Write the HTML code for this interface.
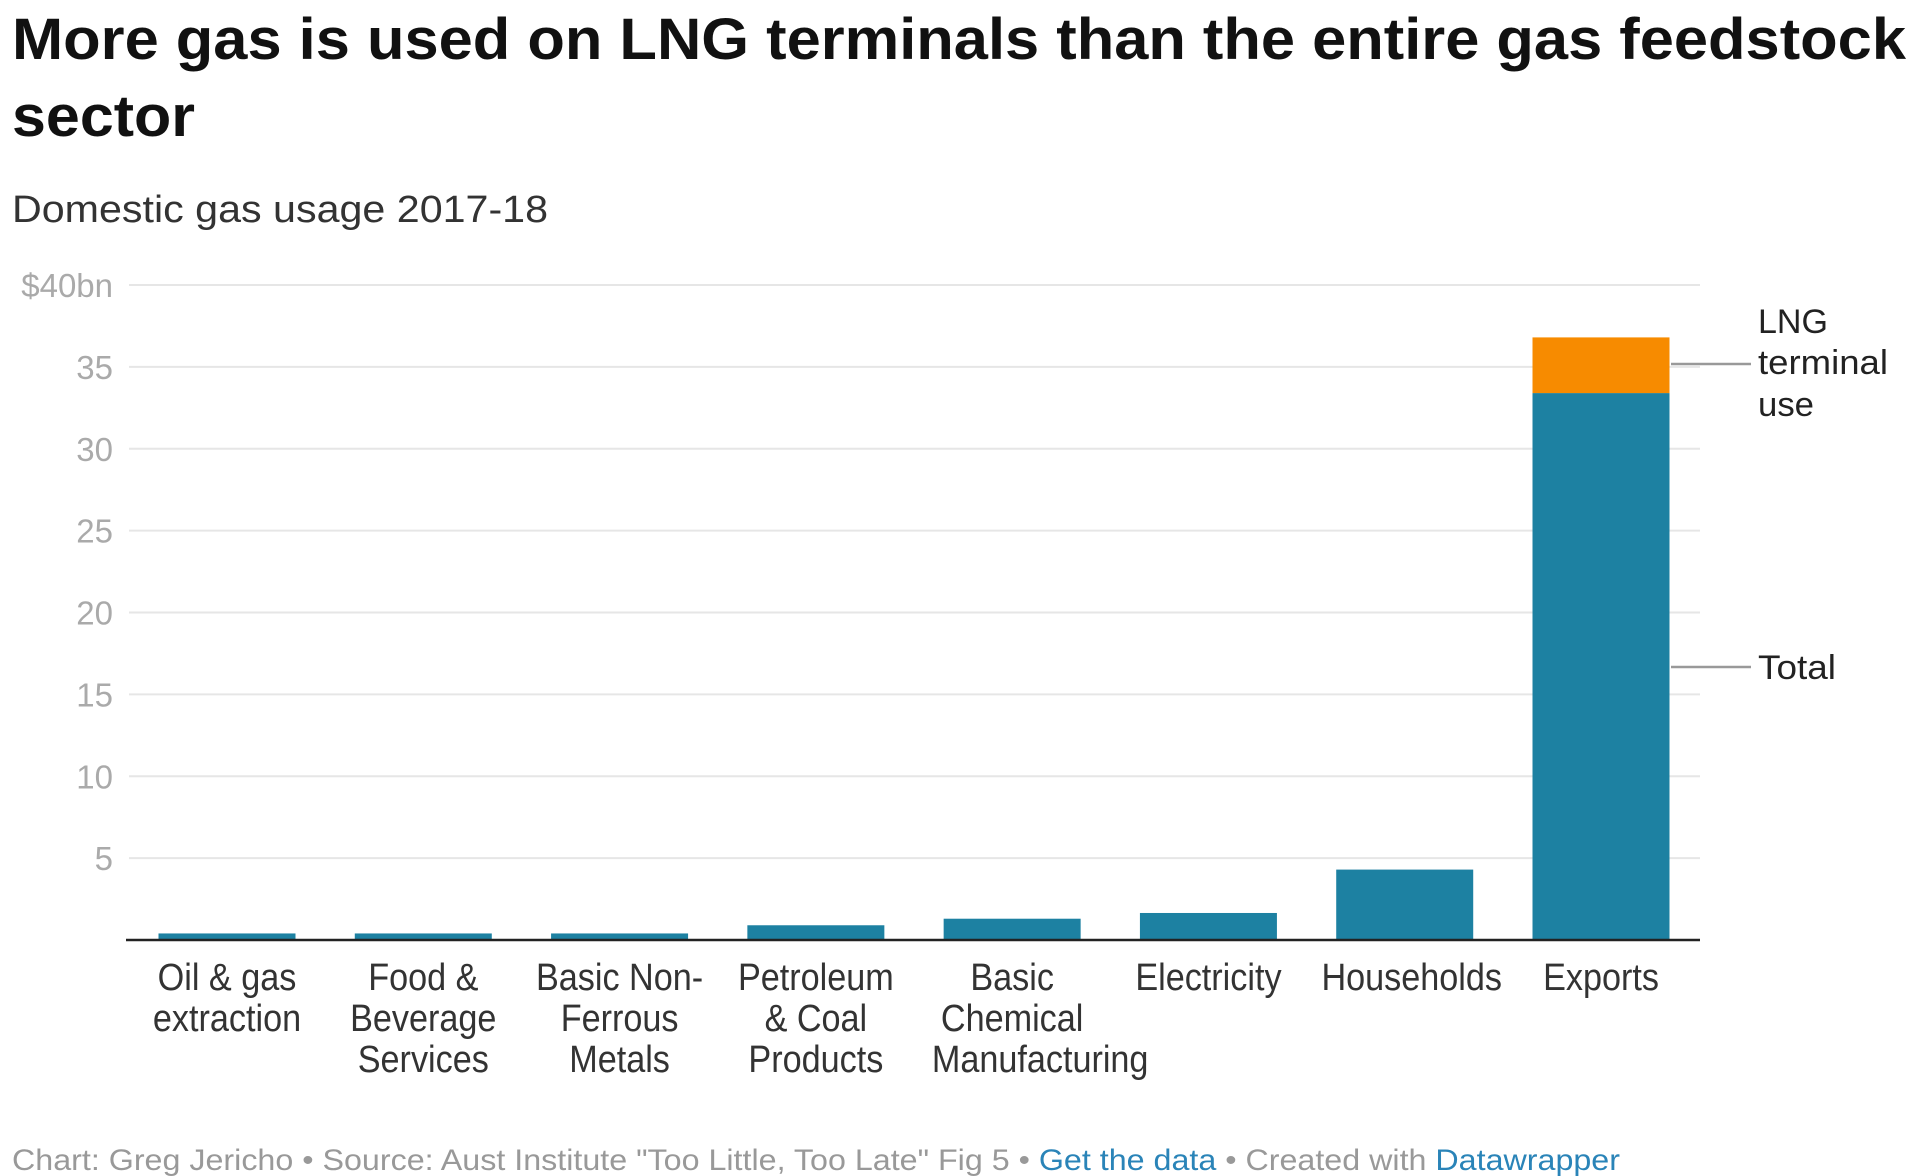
<!DOCTYPE html>
<html><head><meta charset="utf-8"><style>
html,body{margin:0;padding:0;background:#fff;}
svg{display:block;font-family:"Liberation Sans",Arial,sans-serif;}
</style></head><body>
<svg id="chart" width="1918" height="1176" viewBox="0 0 1918 1176">
<text x="12" y="59" font-size="58" font-weight="bold" fill="#111" textLength="1894" lengthAdjust="spacingAndGlyphs">More gas is used on LNG terminals than the entire gas feedstock</text>
<text x="12" y="136" font-size="58" font-weight="bold" fill="#111" textLength="183" lengthAdjust="spacingAndGlyphs">sector</text>
<text x="12" y="222" font-size="38" fill="#333" textLength="536" lengthAdjust="spacingAndGlyphs">Domestic gas usage 2017-18</text>
<g id="grid"></g><g id="bars"></g><g id="xlabels"></g>
<line x1="1671" y1="364" x2="1751" y2="364" stroke="#999" stroke-width="2.5"/>
<line x1="1671" y1="667" x2="1751" y2="667" stroke="#999" stroke-width="2.5"/>
<g font-size="34" fill="#222">
<text x="1758" y="333" textLength="70" lengthAdjust="spacingAndGlyphs">LNG</text>
<text x="1758" y="374" textLength="130" lengthAdjust="spacingAndGlyphs">terminal</text>
<text x="1758" y="416" textLength="56" lengthAdjust="spacingAndGlyphs">use</text>
</g>
<text x="1758" y="679" font-size="34" fill="#222" textLength="78" lengthAdjust="spacingAndGlyphs">Total</text>
<text x="12" y="1170" font-size="30" fill="#999" textLength="1608" lengthAdjust="spacingAndGlyphs">Chart: Greg Jericho • Source: Aust Institute "Too Little, Too Late" Fig 5 • <tspan fill="#2a84b8">Get the data</tspan> • Created with <tspan fill="#2a84b8">Datawrapper</tspan></text>
</svg>
<script>
const categories = [["Oil & gas","extraction"],["Food &","Beverage","Services"],["Basic Non-","Ferrous","Metals"],["Petroleum","& Coal","Products"],["Basic","Chemical","Manufacturing"],["Electricity"],["Households"],["Exports"]];
const totalValues = [0.4, 0.4, 0.4, 0.9, 1.3, 1.65, 4.3, 33.4];
const lngValues = [0, 0, 0, 0, 0, 0, 0, 3.4];
const yTicks = [5, 10, 15, 20, 25, 30, 35, 40];
const yTickLabels = ["5","10","15","20","25","30","35","$40bn"];

const NS = "http://www.w3.org/2000/svg";
const y0 = 940, pxPerUnit = 16.375, left = 129, right = 1700;
const yScale = v => y0 - v * pxPerUnit;
const step = (1601 - 227) / 7;
const xScale = i => 227 + i * step;
const barW = 137;
function mk(tag, attrs, parent){const e=document.createElementNS(NS,tag);for(const k in attrs)e.setAttribute(k,attrs[k]);parent.appendChild(e);return e;}
const grid = document.getElementById('grid');
yTicks.forEach((t,i)=>{
  const l = mk('line',{x1:left,x2:right,y1:yScale(t),y2:yScale(t),stroke:'#e6e6e6','stroke-width':2},grid);
  
  
  const tx = mk('text',{x:113,y:yScale(t)+12,'text-anchor':'end','font-size':33,fill:'#aaa'},grid);
  tx.textContent = yTickLabels[i];
  
  
});
const bars = document.getElementById('bars');
totalValues.forEach((v,i)=>{
  const x = xScale(i) - barW/2;
  const r = mk('rect',{x:x,y:yScale(v),width:barW,height:y0-yScale(v),fill:'#1d81a2'},bars);
  
  
  if(lngValues[i]>0){
    const o = mk('rect',{x:x,y:yScale(v+lngValues[i]),width:barW,height:lngValues[i]*pxPerUnit,fill:'#f78b00'},bars);
    
    
  }
});
const ax = mk('line',{x1:126,x2:right,y1:y0,y2:y0,stroke:'#222','stroke-width':2.5},bars);


const xl = document.getElementById('xlabels');
categories.forEach((lines,i)=>{
  lines.forEach((s,j)=>{
    let cx = xScale(i);
    if(s==="Manufacturing") cx += 28;
    if(s==="Households") cx += 7;
    const g = mk('g',{transform:`translate(${cx},${990+j*41}) scale(0.9,1)`},xl);
    const t = mk('text',{x:0,y:0,'text-anchor':'middle','font-size':38,fill:'#333'},g);
    t.textContent = s;
    
    
  });
});
</script>
</body></html>
